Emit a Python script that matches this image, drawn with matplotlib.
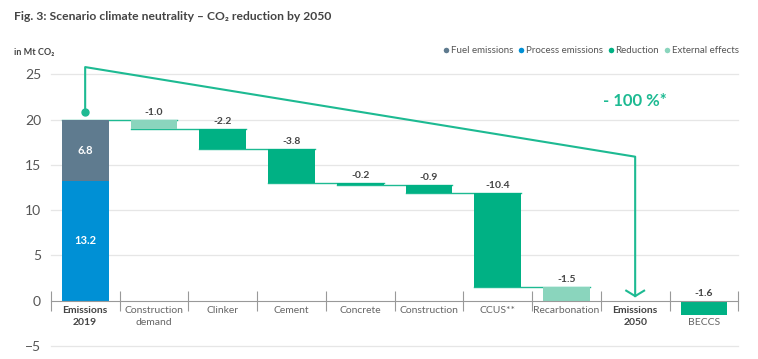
import numpy as np
import matplotlib
matplotlib.use('Agg')
import matplotlib.pyplot as plt
from matplotlib.lines import Line2D

plt.rcParams['font.family'] = ['Lato', 'DejaVu Sans']

# Data
tick_labels = ['Emissions\n2019', 'Construction\ndemand', 'Clinker', 'Cement', 'Concrete',
               'Construction', 'CCUS**', 'Recarbonation', 'Emissions\n2050', '\nBECCS']
process_2019 = 13.2
fuel_2019 = 6.8
step_values = [-1.0, -2.2, -3.8, -0.2, -0.9, -10.4, -1.5]
step_kinds = ['external', 'reduction', 'reduction', 'reduction', 'reduction', 'reduction', 'external']
emissions_2050 = 0.0
beccs = -1.6
y_ticks = [-5, 0, 5, 10, 15, 20, 25]

# Colours
c_fuel = '#5f7b8f'
c_process = '#0090d5'
c_red = '#00b184'
c_ext = '#8ad5bd'
c_line = '#1dba92'
c_text = '#444444'
c_grey = '#666666'

fig = plt.figure(figsize=(7.58, 3.59), dpi=100)
ax = fig.add_axes([0.067, 0.034, 0.907, 0.759])

w = 0.68
x = np.arange(len(tick_labels))

# grid lines
for yt in y_ticks:
    if yt != 0:
        ax.axhline(yt, color='#e6e6e6', lw=0.9, zorder=0, clip_on=False)

# 2019 stacked bar
ax.bar(0, process_2019, w, color=c_process, zorder=3)
ax.bar(0, fuel_2019, w, bottom=process_2019, color=c_fuel, zorder=3)
ax.text(0, process_2019 / 2, f'{process_2019:.1f}', color='white', fontweight='bold',
        ha='center', va='center', fontsize=8)
ax.text(0, process_2019 + fuel_2019 / 2, f'{fuel_2019:.1f}', color='white', fontweight='bold',
        ha='center', va='center', fontsize=8)

# waterfall steps
start = process_2019 + fuel_2019
levels = [start]
for i, (v, k) in enumerate(zip(step_values, step_kinds)):
    xi = i + 1
    col = c_ext if k == 'external' else c_red
    ax.bar(xi, v, w, bottom=start, color=col, zorder=3)
    ax.text(xi, start + 0.3, f'{v:.1f}', color=c_text, fontweight='bold',
            ha='center', va='bottom', fontsize=7.5)
    start = start + v
    levels.append(start)

# BECCS
ax.bar(9, beccs, w, bottom=emissions_2050, color=c_red, zorder=3)
ax.text(9, emissions_2050 + 0.3, f'{beccs:.1f}', color=c_text, fontweight='bold',
        ha='center', va='bottom', fontsize=7.5)

# connector lines
for i in range(len(levels) - 1):
    ax.plot([i - w / 2, i + 1 + w / 2], [levels[i], levels[i]], color=c_line, lw=1, zorder=2)

# big arrow -100 %
ax.plot([0, 0, 8, 8], [20.8, 25.8, 15.9, 0.5], color=c_line, lw=1.5, zorder=4, clip_on=False)
ax.plot(0, 20.8, 'o', color=c_line, ms=5, zorder=4)
ax.plot([7.87, 8, 8.13], [1.1, 0.5, 1.1], color=c_line, lw=1.5, zorder=4)
ax.text(8, 22.0, '- 100 %*', color=c_line, fontsize=12, fontweight='bold', ha='center', va='center')

# axes styling
ax.set_xlim(-0.5, 9.5)
ax.set_ylim(-5.1, 25)
ax.set_yticks(y_ticks)
ax.tick_params(axis='y', length=0, labelsize=10, labelcolor='#555555', pad=7)
for s in ['top', 'right', 'left']:
    ax.spines[s].set_visible(False)
ax.spines['bottom'].set_position(('data', 0))
ax.spines['bottom'].set_color('#999999')
ax.spines['bottom'].set_zorder(5)

ax.set_xticks(x)
ax.set_xticklabels(tick_labels, fontsize=7.5, color=c_grey, linespacing=1.4)
for i in (0, 8):
    ax.get_xticklabels()[i].set_fontweight('bold')
    ax.get_xticklabels()[i].set_color(c_text)
ax.tick_params(axis='x', which='major', length=0, pad=4)
ax.set_xticks(np.arange(-0.5, 10, 1), minor=True)
ax.tick_params(axis='x', which='minor', direction='inout', length=15, color='#999999', width=0.8)

# title and unit
fig.text(0.018, 0.953, 'Fig. 3: Scenario climate neutrality – CO₂ reduction by 2050',
         fontsize=8.7, fontweight='bold', color=c_text, va='center')
fig.text(0.018, 0.855, 'in Mt CO₂', fontsize=6.5, fontweight='bold', color=c_text, va='center')

# legend
handles = [
    Line2D([0], [0], marker='o', color='w', markerfacecolor=c_fuel, markersize=5, label='Fuel emissions'),
    Line2D([0], [0], marker='o', color='w', markerfacecolor=c_process, markersize=5, label='Process emissions'),
    Line2D([0], [0], marker='o', color='w', markerfacecolor=c_red, markersize=5, label='Reduction'),
    Line2D([0], [0], marker='o', color='w', markerfacecolor=c_ext, markersize=5, label='External effects'),
]
leg = fig.legend(handles=handles, loc='center right', bbox_to_anchor=(0.981, 0.859), ncol=4,
                 frameon=False, fontsize=7, handlelength=0.7, handletextpad=0.15,
                 columnspacing=0.45, borderpad=0)
for t in leg.get_texts():
    t.set_color('#555555')

plt.savefig('out.png', dpi=100)
